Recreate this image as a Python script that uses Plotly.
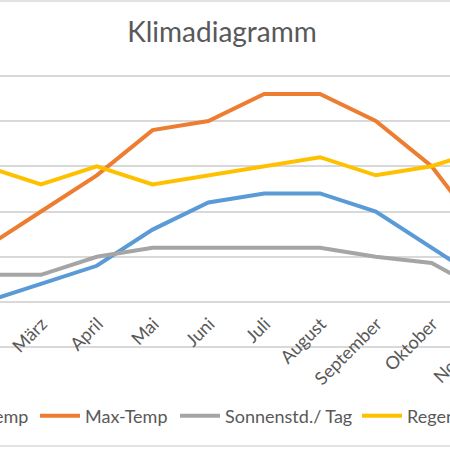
import plotly.graph_objects as go

# Klimadiagramm - Monatswerte
months = ['Januar', 'Februar', 'März', 'April', 'Mai', 'Juni', 'Juli',
          'August', 'September', 'Oktober', 'November', 'Dezember']
min_temp = [-2, 0, 2, 4, 8, 11, 12, 12, 10, 6, 2, -1]
max_temp = [3, 6, 10, 14, 19, 20, 23, 23, 20, 15, 7, 4]
sonne = [2, 3, 3, 5, 6, 6, 6, 6, 5, 4.3, 1, 1]
regen = [16, 15, 13, 15, 13, 14, 15, 16, 14, 15, 17, 17]

y_ticks = [-5, 0, 5, 10, 15, 20, 25]

W, H = 450, 450
T, B = 74, 101
plot_h = H - T - B

# sichtbarer Ausschnitt (Kategorie-Index), y etwas aufgeweitet damit
# die aeussersten Gitterlinien gezeichnet werden
x_lo, x_hi = 1.265, 9.33
y_lo, y_hi = y_ticks[0] - 0.2, y_ticks[-1] + 0.2

text_col = '#595959'
grid_col = '#D9D9D9'
fnt = 'Lato, Calibri, sans-serif'

fig = go.Figure()

series = [
    ('Min-Temp', min_temp, '#5B9BD5', 'legend'),
    ('Max-Temp', max_temp, '#ED7D31', 'legend2'),
    ('Sonnenstd./ Tag', sonne, '#A5A5A5', 'legend3'),
    ('Regentage', regen, '#FFC000', 'legend4'),
]
for name, vals, col, leg in series:
    fig.add_trace(go.Scatter(
        x=list(range(len(months))), y=vals, name=name, mode='lines',
        line=dict(color=col, width=4), legend=leg))

def py(p):
    # Pixelzeile -> paper-Koordinate
    return (H - B - p) / plot_h

leg_style = dict(orientation='h', y=py(416), yanchor='middle', itemwidth=40,
                 bgcolor='rgba(0,0,0,0)', font=dict(size=18, color=text_col))

fig.update_layout(
    width=W, height=H,
    margin=dict(l=0, r=0, t=T, b=B, autoexpand=False),
    paper_bgcolor='white', plot_bgcolor='white',
    font=dict(family=fnt, color=text_col, size=18),
    title=dict(text='Klimadiagramm', x=222 / W, xanchor='center',
               y=1 - 32 / H, yanchor='middle',
               font=dict(size=28, color=text_col, family=fnt)),
    showlegend=True,
    legend=dict(x=34 / W, xanchor='right', **leg_style),
    legend2=dict(x=35 / W, xanchor='left', **leg_style),
    legend3=dict(x=175 / W, xanchor='left', **leg_style),
    legend4=dict(x=357 / W, xanchor='left', **leg_style),
)

axis_pos = (0 - y_lo) / (y_hi - y_lo)

fig.update_xaxes(
    range=[x_lo, x_hi], tickmode='array',
    tickvals=list(range(len(months))), ticktext=months,
    tickangle=-45, showgrid=False, zeroline=False, showline=False,
    anchor='free', position=axis_pos,
    ticklabelstandoff=7, ticklabelshift=1,
    tickfont=dict(size=18, color=text_col, family=fnt), ticks='')

fig.update_yaxes(
    range=[y_lo, y_hi], tickvals=y_ticks, showticklabels=False,
    showgrid=True, gridcolor=grid_col, gridwidth=1.5,
    zeroline=False, showline=False, ticks='')

# November-Beschriftung liegt ausserhalb des Ausschnitts
nov = months.index('November')
fig.add_annotation(text='November', xref='paper', yref='paper',
                   x=(nov - x_lo) / (x_hi - x_lo), y=axis_pos,
                   xanchor='right', yanchor='top', textangle=-45,
                   xshift=18, yshift=-8, showarrow=False,
                   font=dict(size=18, color=text_col, family=fnt))

# Diagrammrahmen
fig.add_shape(type='rect', xref='paper', yref='paper',
              x0=-0.5, x1=1.5, y0=py(446), y1=py(1),
              line=dict(color=grid_col, width=1.5), layer='below')

fig.write_html("out.html", config={'displayModeBar': False},
               post_script="document.body.style.margin='0';")
